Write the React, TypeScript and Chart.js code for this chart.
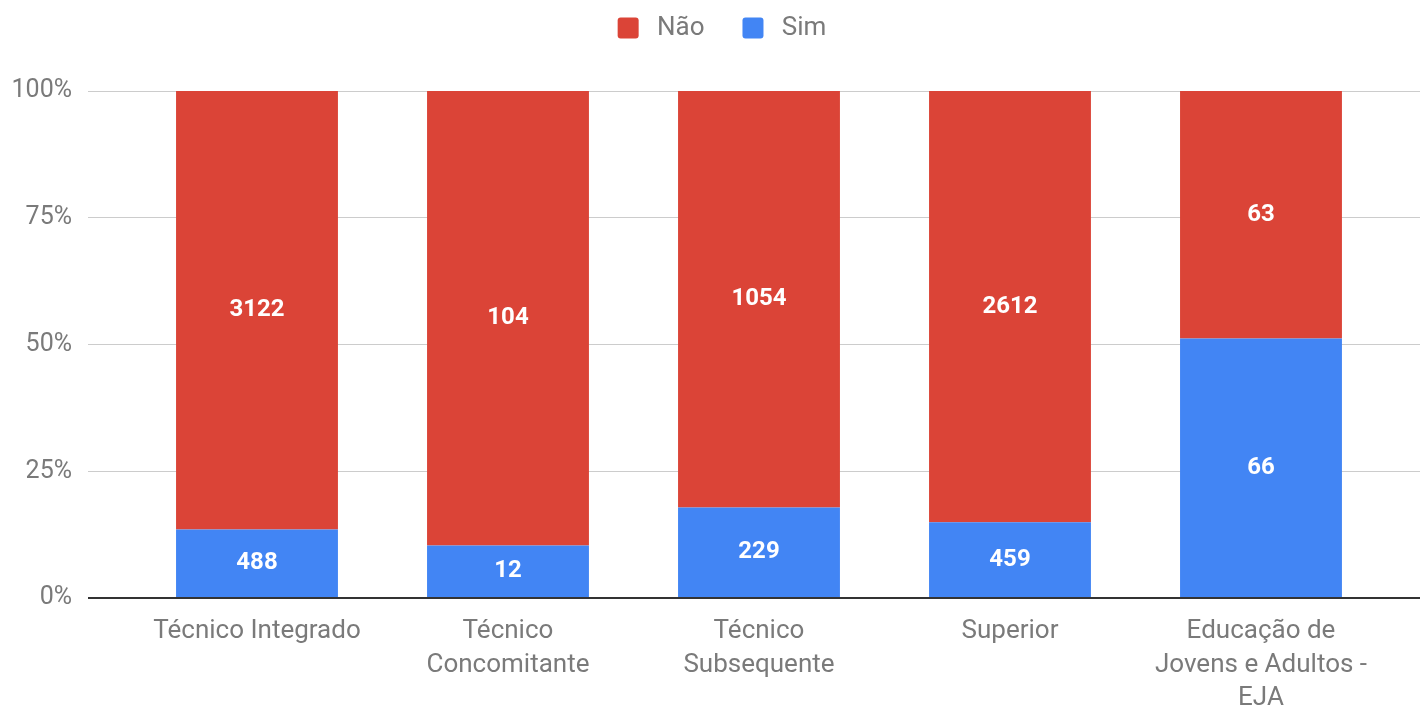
import React, { useEffect, useRef } from "react";
import { Chart, registerables } from "chart.js";

Chart.register(...registerables);

const categories: (string | string[])[] = [
  "Técnico Integrado",
  ["Técnico", "Concomitante"],
  ["Técnico", "Subsequente"],
  "Superior",
  ["Educação de", "Jovens e Adultos -", "EJA"],
];
const naoValues = [3122, 104, 1054, 2612, 63];
const simValues = [488, 12, 229, 459, 66];
const yTicks = [0, 25, 50, 75, 100];

const RED = "#db4437";
const BLUE = "#4285f4";
const TEXT = "#7a7a7a";
const FONT = "Roboto, 'Noto Sans', sans-serif";

const valueLabels = {
  id: "valueLabels",
  afterDatasetsDraw(chart: any) {
    const ctx = chart.ctx;
    ctx.save();
    ctx.font = `bold 24px ${FONT}`;
    ctx.fillStyle = "#ffffff";
    ctx.textAlign = "center";
    ctx.textBaseline = "middle";
    chart.data.datasets.forEach((ds: any, di: number) => {
      const meta = chart.getDatasetMeta(di);
      meta.data.forEach((el: any, i: number) => {
        const raw = ds.counts[i];
        const p = el.getProps(["x", "y", "base"], true);
        ctx.fillText(String(raw), p.x, (p.y + p.base) / 2);
      });
    });
    ctx.restore();
  },
};

const legendSpacing = {
  id: "legendSpacing",
  beforeInit(chart: any) {
    const legend = chart.legend;
    if (!legend) return;
    const origFit = legend.fit;
    legend.fit = function () {
      origFit.call(this);
      this.height += 40;
    };
  },
  afterLayout(chart: any) {
    const legend = chart.legend;
    if (!legend) return;
    legend.left += 12;
    legend.right += 12;
  },
};

export default function App() {
  const ref = useRef<HTMLCanvasElement>(null);
  useEffect(() => {
    if (!ref.current) return;
    const totals = naoValues.map((v, i) => v + simValues[i]);
    const chart = new Chart(ref.current, {
      type: "bar",
      data: {
        datasets: [
          {
            label: "Sim",
            data: simValues.map((v, i) => ({ x: i, y: (v / totals[i]) * 100 })),
            counts: simValues,
            backgroundColor: BLUE,
            categoryPercentage: 1,
            barPercentage: 0.645,
          } as any,
          {
            label: "Não",
            data: naoValues.map((v, i) => ({ x: i, y: (v / totals[i]) * 100 })),
            counts: naoValues,
            backgroundColor: RED,
            categoryPercentage: 1,
            barPercentage: 0.645,
          } as any,
        ],
      },
      options: {
        animation: false,
        responsive: false,
        layout: { padding: { top: -23, left: 0, right: 0, bottom: 0 } },
        plugins: {
          legend: {
            reverse: true,
            labels: {
              font: { family: FONT, size: 26 },
              color: TEXT,
              boxWidth: 21,
              boxHeight: 21,
              useBorderRadius: true,
              borderRadius: 3,
              padding: 38,
              generateLabels: (chart: any) =>
                Chart.defaults.plugins.legend.labels
                  .generateLabels(chart)
                  .map((l: any) => ({ ...l, text: "\u2009" + l.text })),
            } as any,
          },
          tooltip: { enabled: false },
        },
        scales: {
          x: {
            type: "linear",
            stacked: true,
            offset: false,
            min: -0.6733,
            max: 4.6335,
            afterBuildTicks: (axis: any) => {
              axis.ticks = categories.map((_, i) => ({ value: i }));
            },
            afterFit: (axis: any) => {
              axis.height = 113;
            },
            ticks: {
              callback: (v: any) => categories[v as number],
              font: { family: FONT, size: 26, lineHeight: 1.29 },
              color: TEXT,
              padding: 9,
              maxRotation: 0,
              autoSkip: false,
            },
            grid: { display: false },
            border: { display: false },
          },
          y: {
            stacked: true,
            min: 0,
            max: 100,
            afterBuildTicks: (axis: any) => {
              axis.ticks = yTicks.map((v) => ({ value: v }));
            },
            afterFit: (axis: any) => {
              axis.width = 88;
            },
            ticks: {
              callback: (v: any) => `${v}%`,
              font: { family: FONT, size: 25 },
              color: TEXT,
              padding: 16,
            },
            grid: {
              drawTicks: false,
              color: (c: any) => (c.tick && c.tick.value === 0 ? "#333333" : "#cccccc"),
              lineWidth: (c: any) => (c.tick && c.tick.value === 0 ? 2 : 1),
            },
            border: { display: false },
          },
        },
      },
      plugins: [legendSpacing, valueLabels],
    });
    return () => chart.destroy();
  }, []);
  return (
    <div style={{ position: "fixed", left: 0, top: 0, width: 1420, height: 711, background: "#fff" }}>
      <canvas ref={ref} width={1420} height={711} />
    </div>
  );
}
